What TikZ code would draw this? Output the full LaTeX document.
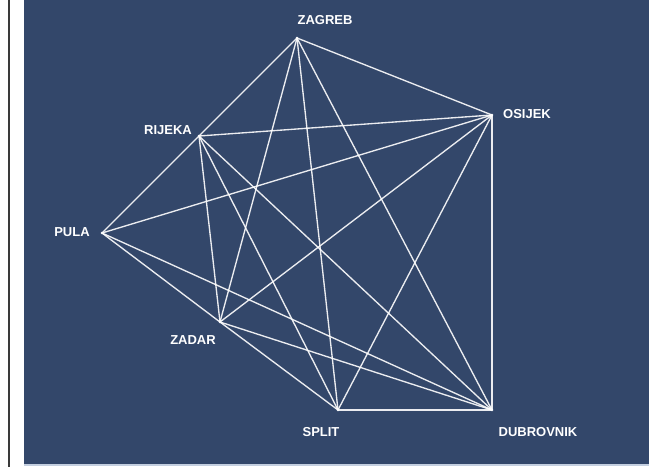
\documentclass[tikz,border=0pt]{standalone}
\usepackage{fontspec}
\setmainfont{Liberation Sans}
\definecolor{bgblue}{HTML}{33476A}
\definecolor{edgeline}{HTML}{3A3A3A}
\definecolor{bottomline}{HTML}{C4CFE0}
\begin{document}
\begin{tikzpicture}[x=1pt,y=-1pt,
  city/.style={font=\bfseries\fontsize{13}{15}\selectfont, text=white, inner sep=0pt},
  link/.style={draw=white, line width=1.35pt, opacity=0.9},
  hub/.style={circle, fill=white, inner sep=0pt, minimum size=2.6pt}]
\useasboundingbox (0,0) rectangle (649,467);
\fill[white] (0,0) rectangle (649,467);
\fill[bgblue] (24,0) rectangle (649,464);
\fill[bottomline] (24,464) rectangle (649,466);
\fill[edgeline] (8,0) rectangle (10,467);
% points
\node[hub] (zg) at (297,38) {};
\node[hub] (os) at (492,115) {};
\node[hub] (ri) at (199,136) {};
\node[hub] (pu) at (102,233) {};
\node[hub] (zd) at (220,322) {};
\node[hub] (st) at (338,410) {};
\node[hub] (du) at (492,410) {};
% labels
\node[city] (lzg) at (325,20) {ZAGREB};
\node[city] (los) at (527,114) {OSIJEK};
\node[city] (lri) at (168,130) {RIJEKA};
\node[city] (lpu) at (72,232) {PULA};
\node[city] (lzd) at (193,340) {ZADAR};
\node[city] (lst) at (321,432) {SPLIT};
\node[city] (ldu) at (538,432) {DUBROVNIK};
% connectors
\foreach \a/\b in {zg/os,zg/ri,zg/zd,zg/st,zg/du,
                   os/ri,os/pu,os/zd,os/st,os/du,
                   ri/pu,ri/zd,ri/st,ri/du,
                   pu/zd,pu/du,
                   zd/st,zd/du,
                   st/du}
  \draw[link] (\a.center) -- (\b.center);
\end{tikzpicture}
\end{document}
